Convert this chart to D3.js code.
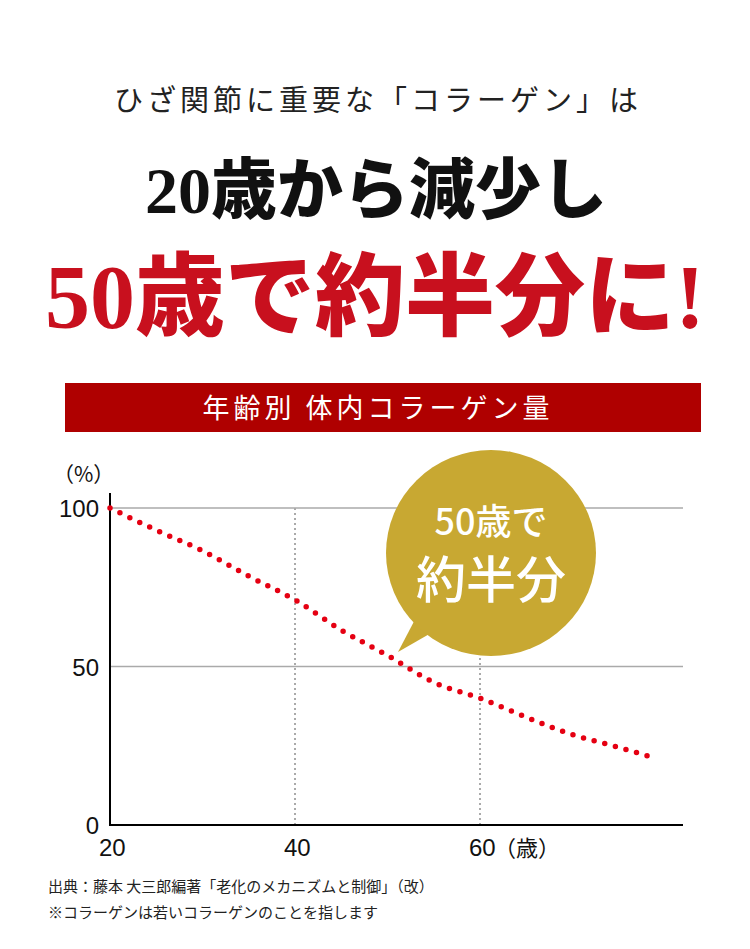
<!DOCTYPE html>
<html><head><meta charset="utf-8">
<script src="https://cdn.jsdelivr.net/npm/d3@7"></script>
<style>body{margin:0;background:#fff}</style>
</head><body>
<script>
const ages = [20, 25, 30, 35, 40, 45, 50, 55, 60, 65, 70, 75, 79]
const collagen = [100, 93, 86.5, 78.5, 71, 61.5, 53.5, 45, 40, 34, 28.5, 24.5, 21]
const xTicks = [20, 40, 60]
const yTicks = [0, 50, 100]

const width = 750, height = 949
const svg = d3.select('body').append('svg')
  .attr('width', width).attr('height', height)
  .attr('viewBox', [0, 0, width, height])

const jp = "'Noto Sans CJK JP', sans-serif"
const serif = "'Liberation Serif', 'DejaVu Serif', 'Noto Sans CJK JP'"

svg.append('text').attr('x', 378).attr('y', 111).attr('text-anchor', 'middle')
  .attr('font-family', jp).attr('font-size', 29).attr('letter-spacing', 4).attr('fill', '#222')
  .text('ひざ関節に重要な「コラーゲン」は')
svg.append('text').attr('x', 376).attr('y', 213).attr('text-anchor', 'middle')
  .attr('font-family', serif).attr('font-weight', 900).attr('font-size', 66).attr('fill', '#111')
  .text('20歳から減少し')
svg.append('text').attr('x', 375).attr('y', 328).attr('text-anchor', 'middle')
  .attr('font-family', serif).attr('font-weight', 900).attr('font-size', 90).attr('fill', '#c8101e')
  .text('50歳で約半分に!')

svg.append('rect').attr('x', 65).attr('y', 383).attr('width', 636).attr('height', 49).attr('fill', '#af0000')
svg.append('text').attr('x', 378).attr('y', 418).attr('text-anchor', 'middle')
  .attr('font-family', jp).attr('font-size', 27).attr('letter-spacing', 4).attr('fill', '#fff')
  .text('年齢別 体内コラーゲン量')

const x = d3.scaleLinear().domain([20, 60]).range([110, 480])
const y = d3.scaleLinear().domain([0, 100]).range([825, 508])
const xEnd = 683

// grid
svg.append('g').selectAll('line').data(yTicks.filter(d => d > 0)).join('line')
  .attr('x1', x(20)).attr('x2', xEnd).attr('y1', y).attr('y2', y)
  .attr('stroke', '#aaa').attr('stroke-width', 1.5)
svg.append('g').selectAll('line').data(xTicks.filter(d => d > 20)).join('line')
  .attr('x1', x).attr('x2', x).attr('y1', y(100)).attr('y2', y(0))
  .attr('stroke', '#aaa').attr('stroke-width', 2).attr('stroke-dasharray', '2 3')

// axes
svg.append('line').attr('x1', x(20)).attr('x2', x(20)).attr('y1', 493).attr('y2', y(0)).attr('stroke', '#000').attr('stroke-width', 2)
svg.append('line').attr('x1', x(20) - 1).attr('x2', xEnd).attr('y1', y(0)).attr('y2', y(0)).attr('stroke', '#000').attr('stroke-width', 2)

const tickFont = "'Liberation Sans Narrow', 'Liberation Sans', sans-serif"
svg.append('g').selectAll('text').data(yTicks).join('text')
  .attr('x', 99).attr('y', d => y(d) + 9).attr('text-anchor', 'end')
  .attr('font-family', tickFont).attr('font-size', 24).attr('fill', '#111').text(d => d)
svg.append('g').selectAll('text').data(xTicks).join('text')
  .attr('x', d => x(d) - 11).attr('y', 856)
  .attr('font-family', tickFont).attr('font-size', 24).attr('fill', '#111').text(d => d)
svg.append('text').attr('x', 494).attr('y', 856).attr('font-family', jp).attr('font-size', 22).attr('fill', '#111').text('（歳）')
svg.append('text').attr('x', 53).attr('y', 482).attr('font-family', jp).attr('font-size', 21).attr('fill', '#111').text('（%）')

// curve
const line = d3.line().curve(d3.curveMonotoneX).x((d, i) => x(ages[i])).y(d => y(d))
svg.append('path').attr('d', line(collagen))
  .attr('fill', 'none').attr('stroke', '#e50012').attr('stroke-width', 5.5)
  .attr('stroke-linecap', 'round').attr('stroke-dasharray', '0 11')

// bubble
const gold = '#c8a832'
svg.append('path').attr('d', 'M420,610 L398,652 L445,625 Z').attr('fill', gold)
svg.append('ellipse').attr('cx', 491).attr('cy', 553).attr('rx', 105).attr('ry', 103).attr('fill', gold)
svg.append('text').attr('x', 491).attr('y', 535).attr('text-anchor', 'middle')
  .attr('font-family', jp).attr('font-weight', 500).attr('font-size', 36).attr('fill', '#fff')
  .text('50歳で')
svg.append('text').attr('x', 491).attr('y', 598).attr('text-anchor', 'middle')
  .attr('font-family', jp).attr('font-weight', 500).attr('font-size', 50).attr('fill', '#fff')
  .text('約半分')

// notes
svg.append('text').attr('x', 48).attr('y', 892).attr('font-family', jp).attr('font-size', 15).attr('fill', '#222')
  .text('出典：藤本 大三郎編著「老化のメカニズムと制御」（改）')
svg.append('text').attr('x', 48).attr('y', 918).attr('font-family', jp).attr('font-size', 15).attr('fill', '#222')
  .text('※コラーゲンは若いコラーゲンのことを指します')
</script>
</body></html>
